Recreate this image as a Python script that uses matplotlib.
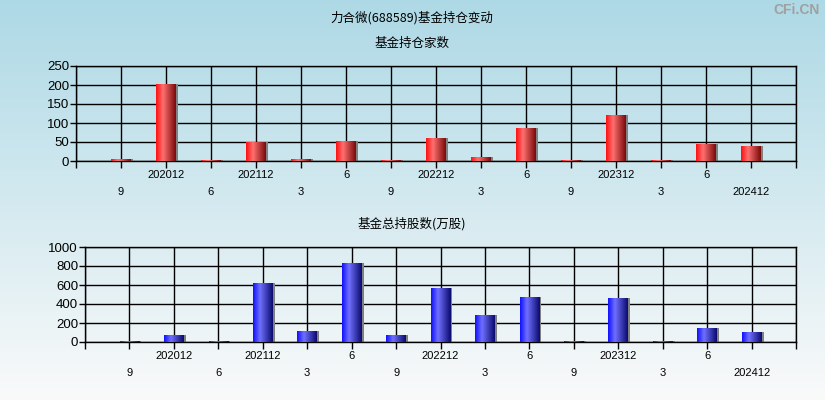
import numpy as np
import matplotlib
matplotlib.use("Agg")
import matplotlib.pyplot as plt
from matplotlib.colors import LinearSegmentedColormap
from matplotlib.patches import Rectangle

plt.rcParams['font.family'] = ['Liberation Sans', 'Noto Sans CJK SC', 'DejaVu Sans']

periods = ["202009", "202012", "202106", "202112", "202203", "202206", "202209",
           "202212", "202303", "202306", "202309", "202312", "202403", "202406", "202412"]
tick_labels = ["9", "202012", "6", "202112", "3", "6", "9", "202212", "3", "6", "9",
               "202312", "3", "6", "202412"]
fund_count = [5, 203, 2, 49, 5, 53, 2, 61, 11, 88, 2, 121, 2, 45, 40]
fund_shares = [10, 77, 8, 624, 119, 835, 77, 572, 288, 477, 8, 466, 8, 151, 109]

W, H = 825, 400
fig = plt.figure(figsize=(W / 100, H / 100), dpi=100)

# background gradient
bg = fig.add_axes([0, 0, 1, 1], zorder=-10)
top_c = np.array([0.68, 0.85, 0.90])
bot_c = np.array([0.98, 0.98, 0.98])
t = np.linspace(0, 1, 256)[:, None]
grad = top_c[None, :] * (1 - t) + bot_c[None, :] * t
bg.imshow(grad[:, None, :], aspect='auto', extent=[0, 1, 0, 1], origin='upper')
bg.set_axis_off()

fig.text(412 / W, 1 - 18 / H, "力合微(688589)基金持仓变动", ha='center', va='center', fontsize=9,
         family=['Noto Sans CJK SC'])
fig.text(412 / W, 1 - 43 / H, "基金持仓家数", ha='center', va='center', fontsize=9,
         family=['Noto Sans CJK SC'])
fig.text(412 / W, 1 - 224 / H, "基金总持股数(万股)", ha='center', va='center', fontsize=9,
         family=['Noto Sans CJK SC'])
fig.text(820 / W, 1 - 10 / H, "CFi.CN", ha='right', va='center', fontsize=10,
         color='#a0a0a0', fontweight='bold')

red_cmap = LinearSegmentedColormap.from_list(
    'r', [(0, '#ff1010'), (0.35, '#ff7070'), (1.0, '#7a0a0a')])
blue_cmap = LinearSegmentedColormap.from_list(
    'b', [(0, '#1010ff'), (0.35, '#7070ff'), (1.0, '#0a0a70')])


def make_axes(rect_px, values, ymax, ystep, cmap):
    l, t_, r, b = rect_px
    ax = fig.add_axes([l / W, 1 - b / H, (r - l) / W, (b - t_) / H])
    ax.patch.set_alpha(0)
    n = len(values)
    ax.set_xlim(-1, n)
    ax.set_ylim(0, ymax)
    ax.set_yticks(np.arange(0, ymax + 1, ystep))
    ax.set_xticks(np.arange(-1, n + 1))
    ax.set_xticklabels([])
    ax.grid(True, color='black', lw=1)
    ax.set_axisbelow(True)
    for s in ax.spines.values():
        s.set_color('black')
        s.set_linewidth(1)
    ax.tick_params(axis='x', length=5, width=1, color='black')
    ax.tick_params(axis='y', length=4, width=1, color='black', labelsize=9.5, pad=1)
    bw = 0.44
    gimg = np.linspace(0, 1, 64)[None, :]
    for i, v in enumerate(values):
        x0 = i - bw / 2
        # shadow
        ax.add_patch(Rectangle((x0 + 0.05, 0), bw, v, color='#808080', zorder=2, lw=0))
        im = ax.imshow(gimg, cmap=cmap, aspect='auto', extent=[x0, x0 + bw, 0, v],
                       zorder=3, interpolation='bilinear')
        rect = Rectangle((x0, 0), bw, v, transform=ax.transData, facecolor='none', lw=0)
        ax.add_patch(rect)
        im.set_clip_path(rect)
    ax.set_xlim(-1, n)
    ax.set_ylim(0, ymax)
    for i, lab in enumerate(tick_labels):
        off = -14 if i % 2 == 1 else -31
        ax.annotate(lab, xy=(i, 0), xycoords=('data', 'axes fraction'),
                    xytext=(0, off), textcoords='offset pixels',
                    ha='center', va='center', fontsize=8)
    return ax


make_axes((76, 66, 796, 161), fund_count, 250, 50, red_cmap)
make_axes((85, 247, 796, 342), fund_shares, 1000, 200, blue_cmap)

fig.savefig("out.png", dpi=100)
